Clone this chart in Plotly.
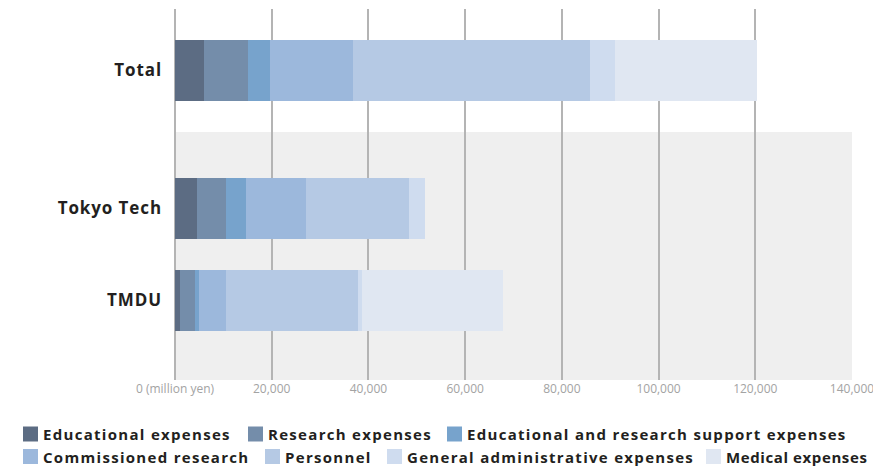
import plotly.graph_objects as go

# ---------------- data ----------------
categories = ["Total", "Tokyo Tech", "TMDU"]
series_names = [
    "Educational expenses",
    "Research expenses",
    "Educational and research support expenses",
    "Commissioned research",
    "Personnel",
    "General administrative expenses",
    "Medical expenses",
]
educational = [5900, 4600, 1000]
research = [9100, 5900, 3100]
support = [4600, 4150, 830]
commissioned = [17300, 12400, 5600]
personnel = [48950, 21350, 27350]
general_admin = [5070, 3300, 770]
medical = [29400, 0, 29200]
x_tick_vals = [0, 20000, 40000, 60000, 80000, 100000, 120000, 140000]
x_tick_labels = ["0 (million yen)", "20,000", "40,000", "60,000", "80,000",
                 "100,000", "120,000", "140,000"]

series_values = [educational, research, support, commissioned,
                 personnel, general_admin, medical]

# ---------------- styles / layout ----------------
colors = ["#5c6c83", "#748daa", "#77a3cc", "#9cb8dc",
          "#b5c9e4", "#cfdcef", "#e0e7f2"]
row_pos = [0, 1.5, 2.5]
W, H = 873, 468
ML, MR, MT, MB = 175, 21, 9, 88
PW, PH = W - ML - MR, H - MT - MB
FONT = "Open Sans"
TXT = "#231f20"


def xp(px):
    return (px - ML) / PW


def yp(py):
    return (H - MB - py) / PH


fig = go.Figure()
for name, vals, col in zip(series_names, series_values, colors):
    fig.add_trace(go.Bar(
        y=row_pos, x=vals, name=name, orientation="h",
        marker=dict(color=col, line=dict(width=0)),
        width=0.66, showlegend=False,
        hovertemplate="%{x:,}<extra>" + name + "</extra>",
    ))

shapes = [dict(type="rect", xref="paper", yref="paper",
               x0=0, x1=1, y0=0, y1=yp(132),
               fillcolor="#efefef", line=dict(width=0), layer="below")]
annotations = []

# manual legend (two rows)
legend_slots = [(23, 434), (248, 434), (447, 434),
                (23, 456.5), (265, 456.5), (387, 456.5), (706, 456.5)]
legend_spacing = [1.3, 1.3, 1.3, 1.3, 1.3, 1.3, 0.6]
for (sx, sy), name, col, sp in zip(legend_slots, series_names, colors, legend_spacing):
    shapes.append(dict(type="rect", xref="paper", yref="paper",
                       x0=xp(sx), x1=xp(sx + 15),
                       y0=yp(sy + 7.5), y1=yp(sy - 7.5),
                       fillcolor=col, line=dict(width=0)))
    annotations.append(dict(
        xref="paper", yref="paper", x=xp(sx + 18.5), y=yp(sy),
        xanchor="left", yanchor="middle", showarrow=False, borderpad=0,
        text="<span style='letter-spacing:%.1fpx'>%s</span>" % (sp, name),
        font=dict(family=FONT, size=15, color=TXT, weight=700),
    ))

fig.update_layout(
    width=W, height=H,
    margin=dict(l=ML, r=MR, t=MT, b=MB, autoexpand=False),
    barmode="stack",
    paper_bgcolor="white", plot_bgcolor="white",
    shapes=shapes, annotations=annotations,
    font=dict(family=FONT),
    xaxis=dict(
        range=[0, 140000], tickvals=x_tick_vals, ticktext=x_tick_labels,
        showgrid=True, gridcolor="#b4b4b4", gridwidth=2,
        zeroline=True, zerolinecolor="#b4b4b4", zerolinewidth=2,
        showline=False, ticks="", ticklabeloverflow="allow",
        automargin=False,
        tickfont=dict(family=FONT, size=12, color="#a3a3a3"),
    ),
    yaxis=dict(
        range=[(H - MB - 70.5) / 92, (MT - 70.5) / 92],
        tickvals=row_pos,
        ticktext=["<span style='letter-spacing:0.9px'>" + c + "</span>" for c in categories],
        showgrid=False, zeroline=False, showline=False, ticks="",
        ticklabelstandoff=12, automargin=False,
        tickfont=dict(family=FONT, size=17, color=TXT, weight=700),
    ),
)

fig.write_html("out.html",
               config={"displayModeBar": False},
               post_script="document.body.style.margin='0px';"
                           "document.body.style.overflow='hidden';")
